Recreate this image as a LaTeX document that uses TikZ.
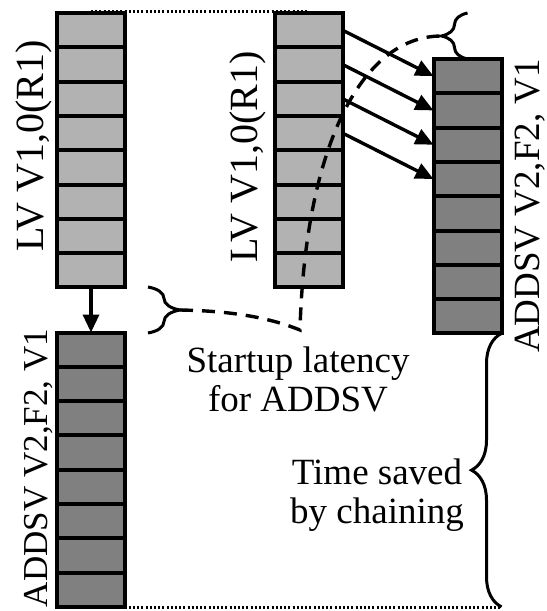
\documentclass[tikz,border=0pt]{standalone}
\usepackage{fontspec}
\setmainfont{Liberation Serif}
\usetikzlibrary{decorations.pathreplacing, arrows.meta}
\definecolor{lightcell}{gray}{0.7}
\definecolor{darkcell}{gray}{0.5}

\begin{document}
\begin{tikzpicture}[x=1bp, y=-1bp,
  cell/.style={draw, line width=4bp, minimum width=68bp, minimum height=34.3bp,
               inner sep=0pt, outer sep=0pt},
  light/.style={cell, fill=lightcell},
  dark/.style={cell, fill=darkcell},
  chain/.style={line width=3.4bp, -{Triangle[length=18bp, width=16bp]}},
  txt/.style={font=\fontsize{37bp}{39bp}\selectfont, inner sep=0pt, align=center},
  vlbl/.style={inner sep=0pt, rotate=90, anchor=base},
  curly/.style={decorate, line width=3bp, decoration={brace, amplitude=#1}},
  latency/.style={line width=3.4bp, dash pattern=on 13bp off 9bp},
  frame/.style={line width=2.2bp, dash pattern=on 2bp off 2.2bp}
]
\useasboundingbox (0,0) rectangle (547,611);

% vector registers: LV (light) and ADDSV (dark), eight elements each
\foreach \i in {1,...,8} {
  \node[light] (a\i) at (91,    {13+34.3*(\i-0.5)}) {};
  \node[light] (b\i) at (308.5, {13+34.3*(\i-0.5)}) {};
  \node[dark]  (c\i) at (467.5, {59+34.3*(\i-0.5)}) {};
  \node[dark]  (d\i) at (91,    {332.5+34.3*(\i-0.5)}) {};
}

% instruction labels
\node[vlbl, font=\fontsize{40bp}{40bp}\selectfont] (la) at (43, 146) {LV V1,0(R1)};
\node[vlbl, font=\fontsize{40bp}{40bp}\selectfont] (lb) at (257, 157) {LV V1,0(R1)};
\node[vlbl, font=\fontsize{37bp}{37bp}\selectfont] (lc) at (539, 206) {ADDSV V2,F2, V1};
\node[vlbl, font=\fontsize{35bp}{35bp}\selectfont] (ld) at (47, 468) {ADDSV V2,F2, V1};

% unchained: ADDSV waits for the whole load
\draw[chain] (a8.south) -- (d1.north);

% chained: elements forwarded as they arrive
\foreach \i in {1,...,4}
  \draw[chain] (b\i.east) -- (c\i.west);

% time frame
\draw[frame] ([yshift=1.5bp]a1.north) -- ([yshift=1.5bp]b1.north);
\coordinate (saveEnd) at (c8.south east |- d8.south);
\draw[frame] ([yshift=-0.5bp]d8.south) -- ([yshift=-0.5bp]saveEnd);

% startup latency braces
\coordinate (lbTop) at (148, 287);
\coordinate (lbBot) at (148, 333);
\draw[curly=32bp] (lbTop) -- (lbBot);
\coordinate (lbTip) at (180, 310);

\coordinate (tbTop) at (c1.north |- b1.north);
\draw[curly=26bp] (c1.north) -- (tbTop);
\coordinate (tbTip) at (441.5, 36);

\coordinate (bend) at (300, 330);
\draw[latency] (lbTip) .. controls (240, 311) and (275, 320) .. (bend)
               .. controls (305, 150) and (360, 36) .. (tbTip);

% time saved brace
\draw[curly=30bp] (saveEnd) -- (c8.south east);

\node[txt] (lat) at (298, 379) {Startup latency\\for ADDSV};
\node[txt] (sav) at (377, 495) {Time saved\\by chaining};
\end{tikzpicture}
\end{document}
